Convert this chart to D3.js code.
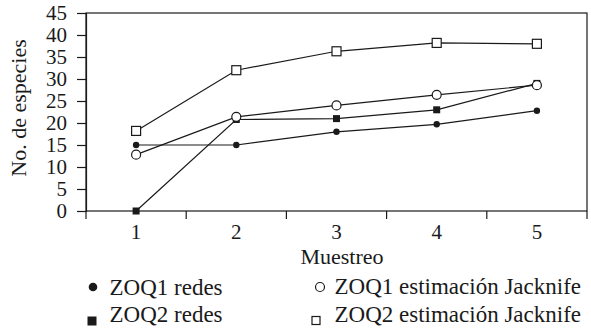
<!DOCTYPE html>
<html>
<head>
<meta charset="utf-8">
<script src="https://cdn.jsdelivr.net/npm/d3@7"></script>
<style>
  body { margin: 0; background: #fff; }
</style>
</head>
<body>
<svg id="chart" width="591" height="333" font-family="Liberation Serif">
  <text x="2" y="2" font-size="1" fill="#fff" style="font-family: 'Liberation Serif'">.</text>
</svg>
<script>
// datos
const muestreo = [1, 2, 3, 4, 5];
const zoq1Redes = [15, 15, 18, 19.7, 22.8];
const zoq2Redes = [0, 20.8, 21, 23, 29];
const zoq1Jack = [12.8, 21.4, 24, 26.4, 28.6];
const zoq2Jack = [18.2, 32, 36.3, 38.2, 38];
const yTicks = [0, 5, 10, 15, 20, 25, 30, 35, 40, 45];

const series = [
  { name: "ZOQ1 redes", values: zoq1Redes, shape: "circle", filled: true },
  { name: "ZOQ2 redes", values: zoq2Redes, shape: "square", filled: true },
  { name: "ZOQ1 estimación Jacknife", values: zoq1Jack, shape: "circle", filled: false },
  { name: "ZOQ2 estimación Jacknife", values: zoq2Jack, shape: "square", filled: false },
];

const width = 591;
const height = 333;
const margin = { top: 13, right: 4, bottom: 122, left: 86 };
const font = "'Liberation Serif'";
const ink = "#1a1a1a";

const svg = d3.select("#chart");

const x = d3
  .scaleBand()
  .domain(muestreo)
  .range([margin.left, width - margin.right]);

const y = d3
  .scaleLinear()
  .domain([0, 45])
  .range([height - margin.bottom, margin.top]);

// marco
svg
  .append("rect")
  .attr("x", margin.left)
  .attr("y", margin.top)
  .attr("width", x.range()[1] - margin.left)
  .attr("height", y(0) - margin.top)
  .attr("fill", "none")
  .attr("stroke", ink)
  .attr("stroke-width", 1.2);

// eje y
const yAxis = svg
  .append("g")
  .attr("transform", "translate(" + margin.left + ",0)")
  .call(d3.axisLeft(y).tickValues(yTicks).tickSize(9).tickPadding(10));
yAxis.attr("font-family", null).attr("font-size", 21);
yAxis.select(".domain").attr("stroke", ink).attr("stroke-width", 1.2);
yAxis.selectAll(".tick line").attr("stroke", ink).attr("stroke-width", 1.2);
yAxis.selectAll(".tick text").attr("fill", ink);

// eje x: marcas en los limites de cada categoria
const bounds = muestreo.map((d) => x(d)).concat([x(muestreo[muestreo.length - 1]) + x.bandwidth()]);
svg
  .append("g")
  .selectAll("line")
  .data(bounds)
  .join("line")
  .attr("x1", (d) => d)
  .attr("x2", (d) => d)
  .attr("y1", y(0))
  .attr("y2", y(0) + 8)
  .attr("stroke", ink)
  .attr("stroke-width", 1.2);

svg
  .append("g")
  .selectAll("text")
  .data(muestreo)
  .join("text")
  .attr("x", (d) => x(d) + x.bandwidth() / 2)
  .attr("y", y(0) + 28)
  .attr("text-anchor", "middle")
  .attr("font-size", 21)
  .attr("fill", ink)
  .text((d) => d);

svg
  .append("text")
  .attr("x", 342)
  .attr("y", 264)
  .attr("text-anchor", "middle")
  .attr("font-size", 22)
  .attr("fill", ink)
  .text("Muestreo");

svg
  .append("text")
  .attr("transform", "translate(26," + (margin.top + 95) + ") rotate(-90)")
  .attr("text-anchor", "middle")
  .attr("font-size", 22)
  .attr("fill", ink)
  .text("No. de especies");

// lineas
const line = d3
  .line()
  .x((d, i) => x(muestreo[i]) + x.bandwidth() / 2)
  .y((d) => y(d));

svg
  .append("g")
  .selectAll("path")
  .data(series)
  .join("path")
  .attr("fill", "none")
  .attr("stroke", ink)
  .attr("stroke-width", 1.2)
  .attr("d", (d) => line(d.values));

function drawMarker(g, s, cx, cy, big) {
  if (s.shape === "circle") {
    g.append("circle")
      .attr("cx", cx)
      .attr("cy", cy)
      .attr("r", s.filled ? (big ? 4.3 : 3.2) : 4.5)
      .attr("fill", s.filled ? ink : "#fff")
      .attr("stroke", ink)
      .attr("stroke-width", s.filled ? 0 : 1.2);
  } else {
    const size = s.filled ? (big ? 9 : 7) : (big ? 8 : 9);
    g.append("rect")
      .attr("x", cx - size / 2)
      .attr("y", cy - size / 2)
      .attr("width", size)
      .attr("height", size)
      .attr("fill", s.filled ? ink : "#fff")
      .attr("stroke", ink)
      .attr("stroke-width", s.filled ? 0 : 1.2);
  }
}

// marcadores
const markers = svg.append("g");
series.forEach((s) => {
  s.values.forEach((v, i) => {
    drawMarker(markers, s, x(muestreo[i]) + x.bandwidth() / 2, y(v), false);
  });
});

// leyenda
const legendPos = [
  { mx: 93, my: 287, tx: 109.5, y: 295 },
  { mx: 92, my: 321, tx: 109.5, y: 322 },
  { mx: 320, my: 287, tx: 334.5, y: 294 },
  { mx: 316, my: 320.5, tx: 334.5, y: 322 },
];
const legend = svg.append("g");
series.forEach((s, i) => {
  const p = legendPos[i];
  drawMarker(legend, s, p.mx, p.my, true);
  legend
    .append("text")
    .attr("x", p.tx)
    .attr("y", p.y)
    .attr("font-size", 23)
    .attr("fill", ink)
    .text(s.name);
});

// todas las etiquetas con la misma fuente con serifa
svg.selectAll("text").style("font-family", font);
</script>
</body>
</html>
